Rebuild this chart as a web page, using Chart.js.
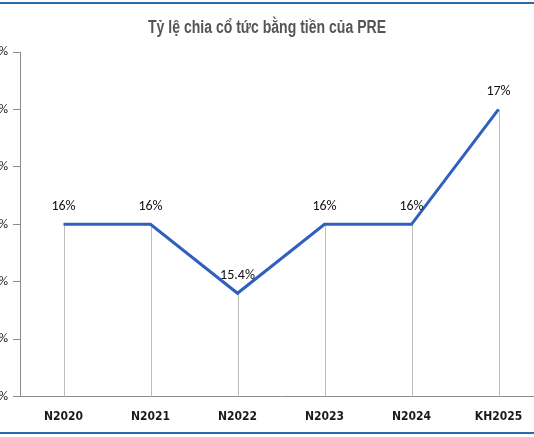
<!DOCTYPE html>
<html>
<head>
<meta charset="utf-8">
<script src="https://cdn.jsdelivr.net/npm/chart.js@4/dist/chart.umd.min.js"></script>
<style>
  body { margin: 0; background: #fff; overflow: hidden; }
  #wrap { position: relative; width: 534px; height: 437px; overflow: hidden; }
  .rule { position: absolute; left: 0; width: 534px; height: 2px; background: #2a6aae; }
  #box { position: absolute; left: -60px; top: 0; width: 654px; height: 437px; }
</style>
</head>
<body>
<div id="wrap">
  <div id="box"><canvas id="chart"></canvas></div>
  <div class="rule" style="top:2px"></div>
  <div class="rule" style="top:432px"></div>
</div>
<script>
const title = 'Tỷ lệ chia cổ tức bằng tiền của PRE';
const years = ['N2020', 'N2021', 'N2022', 'N2023', 'N2024', 'KH2025'];
const payout = [16, 16, 15.4, 16, 16, 17];
const pointLabels = ['16%', '16%', '15.4%', '16%', '16%', '17%'];

// Condensed title, drop lines under points and value labels
const decorations = {
  id: 'decorations',
  beforeDraw(chart) {
    const c = chart.ctx;
    c.save();
    c.font = 'bold 18px "Liberation Sans", sans-serif';
    c.fillStyle = '#555';
    c.textAlign = 'center';
    c.textBaseline = 'middle';
    c.translate(chart.width / 2, 28);
    c.scale(0.78, 1);
    c.fillText(title, 0, 0);
    c.restore();
  },
  beforeDatasetsDraw(chart) {
    const c = chart.ctx;
    const bottom = chart.chartArea.bottom;
    c.save();
    c.strokeStyle = '#bdbdbd';
    c.lineWidth = 1;
    chart.getDatasetMeta(0).data.forEach(pt => {
      c.beginPath();
      c.moveTo(Math.round(pt.x) + 0.5, pt.y);
      c.lineTo(Math.round(pt.x) + 0.5, bottom);
      c.stroke();
    });
    c.restore();
  },
  afterDatasetsDraw(chart) {
    const c = chart.ctx;
    c.save();
    c.font = '14px Carlito, "Liberation Sans", sans-serif';
    c.fillStyle = '#111';
    c.textAlign = 'center';
    c.textBaseline = 'bottom';
    chart.getDatasetMeta(0).data.forEach((pt, i) => {
      c.fillText(pointLabels[i], pt.x, pt.y - 11);
    });
    c.restore();
  }
};

new Chart(document.getElementById('chart'), {
  type: 'line',
  data: {
    labels: years,
    datasets: [{
      data: payout,
      borderColor: '#2f5fbf',
      borderWidth: 3,
      pointRadius: 0,
      tension: 0
    }]
  },
  options: {
    responsive: true,
    maintainAspectRatio: false,
    animation: false,
    layout: { padding: { left: 0, right: 52, top: 52, bottom: 0 } },
    plugins: {
      legend: { display: false },
      tooltip: { enabled: false },
      title: { display: false }
    },
    scales: {
      x: {
        offset: true,
        grid: { display: false, drawTicks: false },
        border: { color: '#8c8c8c', width: 1 },
        ticks: {
          color: '#1a1a1a',
          padding: 13,
          font: { family: '"Liberation Sans Narrow", "DejaVu Sans Condensed", sans-serif', size: 12, weight: 'bold' }
        }
      },
      y: {
        min: 14.5,
        max: 17.5,
        afterFit(scale) { scale.width = 80; },
        grid: { drawOnChartArea: false, drawTicks: true, tickLength: 7, color: '#8c8c8c' },
        border: { color: '#8c8c8c', width: 1 },
        ticks: {
          stepSize: 0.5,
          padding: 5,
          color: '#222',
          font: { family: 'Carlito, "Liberation Sans", sans-serif', size: 13 },
          callback: v => v.toFixed(1) + '%'
        }
      }
    }
  },
  plugins: [decorations]
});
</script>
</body>
</html>
